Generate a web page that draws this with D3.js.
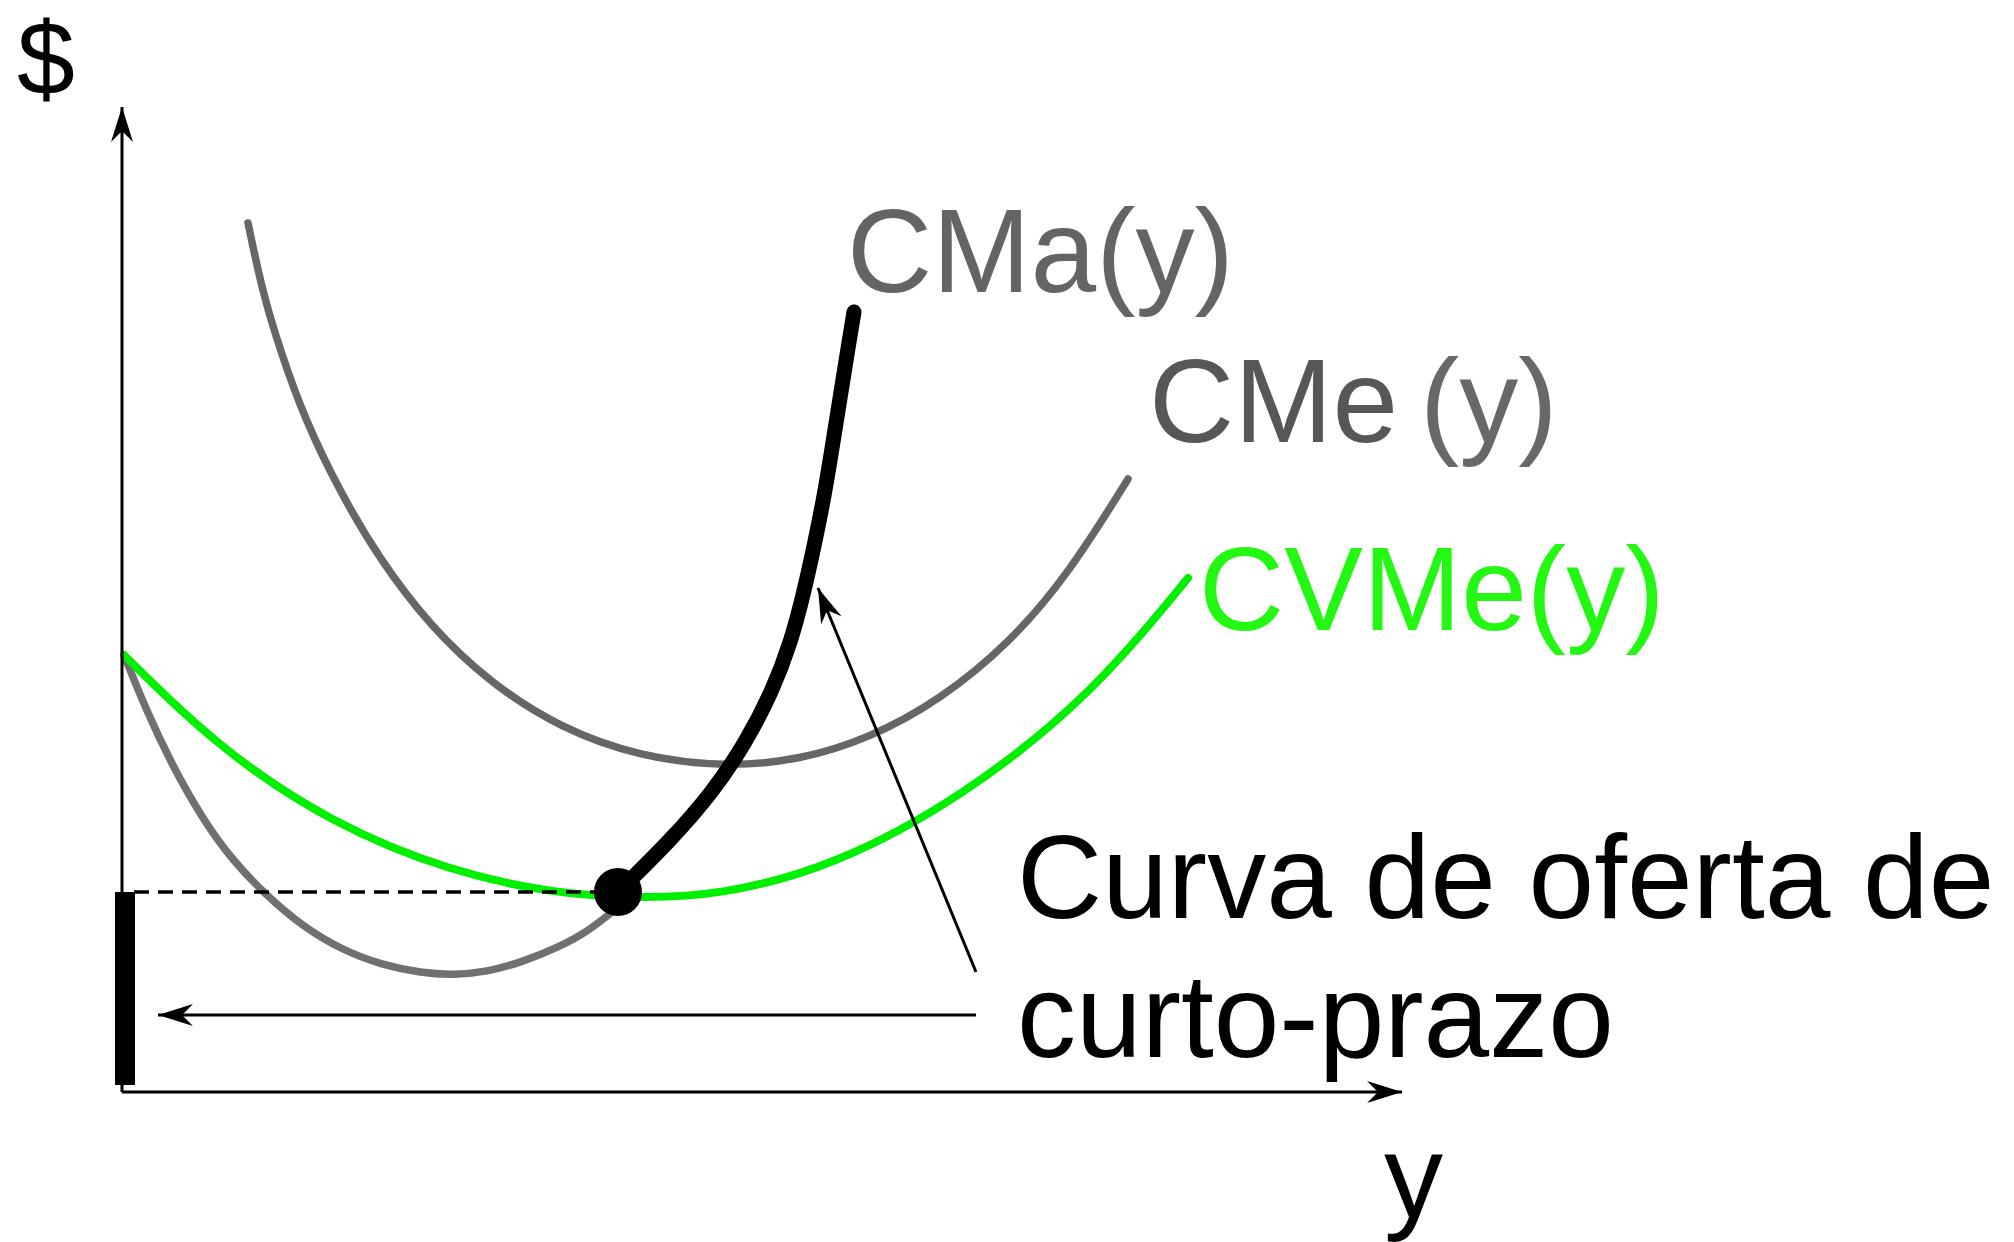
<!DOCTYPE html>
<html>
<head>
<meta charset="utf-8">
<script src="https://cdn.jsdelivr.net/npm/d3@7"></script>
<style>
  body { margin: 0; background: #fff; }
  text { font-family: "Liberation Sans", Arial, sans-serif; font-size: 118px; }
</style>
</head>
<body>
<div id="chart"></div>
<script>
// Curve data (quantity y, cost $)
const mcLower = [
  [0.02, 4.37], [0.25, 3.80], [0.50, 3.27], [0.80, 2.74], [1.10, 2.32],
  [1.45, 1.96], [1.80, 1.66], [2.20, 1.42], [2.60, 1.27], [3.00, 1.19],
  [3.30, 1.17], [3.65, 1.20], [4.00, 1.30], [4.35, 1.44], [4.65, 1.60],
  [4.90, 1.80]
];
const supplyCurve = [
  [4.96, 2.00], [5.47, 2.50], [5.91, 3.00], [6.24, 3.50], [6.50, 4.00],
  [6.69, 4.50], [6.82, 5.00], [6.93, 5.50], [7.03, 6.00], [7.11, 6.50],
  [7.19, 7.00], [7.27, 7.50], [7.32, 7.80]
];
const cmeCurve = [
  [1.26, 8.69], [1.40, 8.02], [1.58, 7.42], [1.83, 6.72], [2.18, 6.00],
  [2.58, 5.32], [3.08, 4.66], [3.68, 4.09], [4.38, 3.64], [5.18, 3.35],
  [6.05, 3.25], [6.78, 3.32], [7.48, 3.54], [8.18, 3.92], [8.88, 4.49],
  [9.48, 5.20], [10.06, 6.13]
];
const cvmeCurve = [
  [0.02, 4.37], [0.95, 3.45], [2.10, 2.68], [3.30, 2.20], [4.30, 1.99],
  [5.08, 1.94], [5.97, 1.96], [7.13, 2.26], [8.41, 2.95], [9.70, 3.97],
  [10.66, 5.14]
];
// shutdown point (min CVMe)
const shutdownPoint = [4.96, 2.00];
// annotation arrows: [from, to]
const pointerArrow = [[8.54, 1.20], [6.96, 5.04]];
const backArrow = [[8.54, 0.77], [0.36, 0.77]];
// axis extent
const xMax = 12.8;
const yMax = 9.85;
// labels
const curveLabels = ["CMa(y)", "CMe", " (y)", "CVMe(y)"];
const supplyLabel = ["Curva de oferta de", "curto-prazo"];
const axisLabels = ["$", "y"];

// Set dimensions
const width = 2014;
const height = 1242;

const svg = d3.select("#chart")
  .append("svg")
  .attr("width", width)
  .attr("height", height);

// Define scales
const x = d3.scaleLinear().domain([0, xMax]).range([122, 1402]);
const y = d3.scaleLinear().domain([0, yMax]).range([1092, 107]);

// barbed arrow head
svg.append("defs")
  .append("marker")
  .attr("id", "arrow")
  .attr("markerUnits", "userSpaceOnUse")
  .attr("viewBox", "-36 -12 38 24")
  .attr("refX", 0)
  .attr("refY", 0)
  .attr("markerWidth", 38)
  .attr("markerHeight", 24)
  .attr("orient", "auto")
  .append("path")
  .attr("d", "M0,0 L-35,-11 L-24,0 L-35,11 Z")
  .attr("fill", "#000");

// smooth curves through the read points
const line = d3.line()
  .x(d => x(d[0]))
  .y(d => y(d[1]))
  .curve(d3.curveBasis);

const straight = d3.line()
  .x(d => x(d[0]))
  .y(d => y(d[1]));

// CMe curve
svg.append("path")
  .attr("d", line(cmeCurve))
  .attr("fill", "none")
  .attr("stroke", "#666")
  .attr("stroke-width", 7.5)
  .attr("stroke-linecap", "round");

// lower part of CMa
svg.append("path")
  .attr("d", line(mcLower))
  .attr("fill", "none")
  .attr("stroke", "#707070")
  .attr("stroke-width", 7.5)
  .attr("stroke-linecap", "round");

// CVMe curve
svg.append("path")
  .attr("d", line(cvmeCurve))
  .attr("fill", "none")
  .attr("stroke", "#00f000")
  .attr("stroke-width", 8)
  .attr("stroke-linecap", "round");

// dashed price line at min CVMe
svg.append("line")
  .attr("x1", x(0) + 12)
  .attr("x2", x(shutdownPoint[0]))
  .attr("y1", y(shutdownPoint[1]))
  .attr("y2", y(shutdownPoint[1]))
  .attr("stroke", "#000")
  .attr("stroke-width", 3.5)
  .attr("stroke-dasharray", "15 9");

// short-run supply curve
svg.append("path")
  .attr("d", line(supplyCurve))
  .attr("fill", "none")
  .attr("stroke", "#000")
  .attr("stroke-width", 15)
  .attr("stroke-linecap", "round");

svg.append("circle")
  .attr("cx", x(shutdownPoint[0]))
  .attr("cy", y(shutdownPoint[1]))
  .attr("r", 24)
  .attr("fill", "#000");

// vertical stretch of the supply at y = 0
svg.append("rect")
  .attr("x", x(0) - 7)
  .attr("y", y(shutdownPoint[1]))
  .attr("width", 20)
  .attr("height", y(0) - y(shutdownPoint[1]) - 7)
  .attr("fill", "#000");

// axes
svg.append("path")
  .attr("d", straight([[0, 0], [0, yMax]]))
  .attr("stroke", "#000")
  .attr("stroke-width", 3)
  .attr("marker-end", "url(#arrow)");

svg.append("path")
  .attr("d", straight([[0, 0], [xMax, 0]]))
  .attr("stroke", "#000")
  .attr("stroke-width", 3)
  .attr("marker-end", "url(#arrow)");

// annotation arrows
[pointerArrow, backArrow].forEach(a => {
  svg.append("path")
    .attr("d", straight(a))
    .attr("stroke", "#000")
    .attr("stroke-width", 3)
    .attr("marker-end", "url(#arrow)");
});

// curve labels
const cmaEnd = supplyCurve[supplyCurve.length - 1];
svg.append("text")
  .attr("x", x(cmaEnd[0]) - 7)
  .attr("y", y(cmaEnd[1]) - 20)
  .attr("fill", "#646464")
  .text(curveLabels[0]);

const cmeEnd = cmeCurve[cmeCurve.length - 1];
const cmeText = svg.append("text")
  .attr("x", x(cmeEnd[0]) + 21)
  .attr("y", y(cmeEnd[1]) - 37);
cmeText.append("tspan").attr("fill", "#575757").text(curveLabels[1]);
cmeText.append("tspan").attr("fill", "#686868").attr("dx", -11).text(curveLabels[2]);

const cvmeEnd = cvmeCurve[cvmeCurve.length - 1];
svg.append("text")
  .attr("x", x(cvmeEnd[0]) + 11)
  .attr("y", y(cvmeEnd[1]) + 52)
  .attr("fill", "#22f812")
  .text(curveLabels[3]);

// supply label
svg.append("text")
  .selectAll("tspan")
  .data(supplyLabel)
  .join("tspan")
  .attr("x", 1017)
  .attr("y", (d, i) => 918 + i * 139)
  .attr("fill", "#000")
  .text(d => d);

// axis labels
svg.append("text")
  .attr("x", 17)
  .attr("y", 94)
  .style("font-size", "104px")
  .text(axisLabels[0]);

svg.append("text")
  .attr("x", 1384)
  .attr("y", 1217)
  .text(axisLabels[1]);
</script>
</body>
</html>
